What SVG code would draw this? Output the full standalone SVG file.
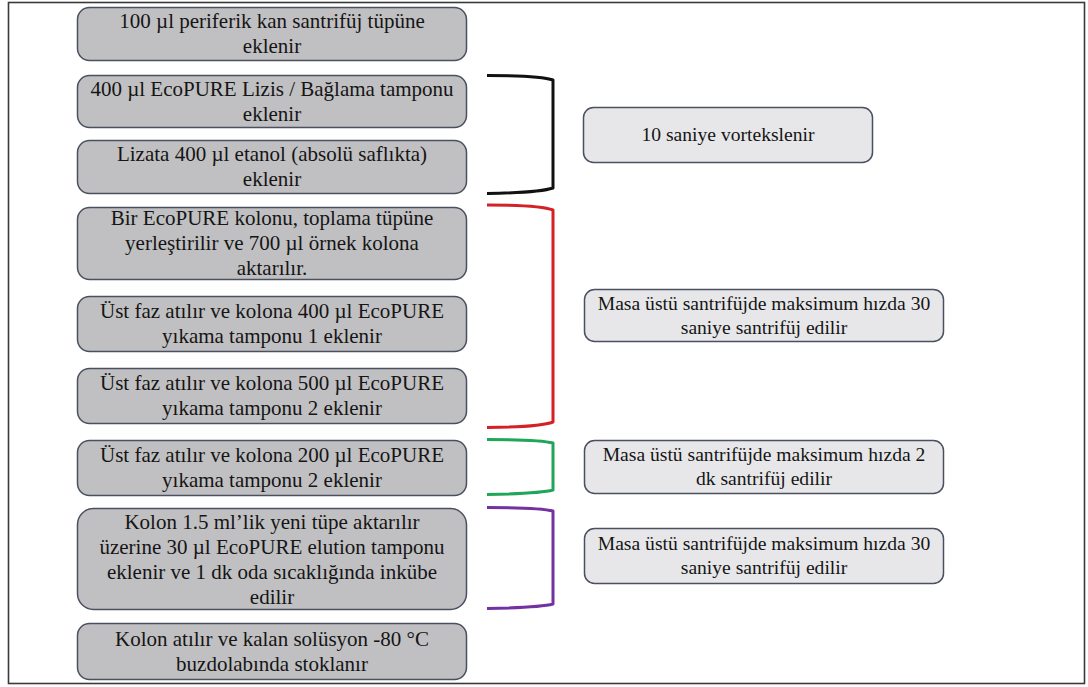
<svg xmlns="http://www.w3.org/2000/svg" width="1088" height="687" viewBox="0 0 1088 687">
<style>
.frame{fill:#ffffff;stroke:#3a3a3a;stroke-width:1.6}
.step{fill:#c0c0c2;stroke:#4a5060;stroke-width:1.5}
.act{fill:#e7e7e9;stroke:#4a5060;stroke-width:1.5}
text{font-family:"Liberation Serif","Times New Roman",serif;fill:#151515;text-anchor:middle}
.l{font-size:21px}
.r{font-size:19.6px}
.br{fill:none;stroke-width:3;stroke-linecap:butt;stroke-linejoin:round}
</style>
<rect class="frame" x="8.5" y="2.5" width="1076" height="681"/>
<g id="step1"><rect class="step" x="77.5" y="7.5" width="389" height="53" rx="12"/><text class="l" x="272" y="28">100 µl periferik kan santrifüj tüpüne</text><text class="l" x="272" y="53">eklenir</text></g>
<g id="step2"><rect class="step" x="77.5" y="75.5" width="389" height="52" rx="12"/><text class="l" x="272" y="95.5">400 µl EcoPURE Lizis / Bağlama tamponu</text><text class="l" x="272" y="120.5">eklenir</text></g>
<g id="step3"><rect class="step" x="77.5" y="140.5" width="389" height="53" rx="12"/><text class="l" x="272" y="161">Lizata 400 µl etanol (absolü saflıkta)</text><text class="l" x="272" y="186">eklenir</text></g>
<g id="step4"><rect class="step" x="77.5" y="207.5" width="389" height="72" rx="12"/><text class="l" x="272" y="225">Bir EcoPURE kolonu, toplama tüpüne</text><text class="l" x="272" y="250">yerleştirilir ve 700 µl örnek kolona</text><text class="l" x="272" y="275">aktarılır.</text></g>
<g id="step5"><rect class="step" x="77.5" y="296.5" width="389" height="55" rx="12"/><text class="l" x="272" y="318">Üst faz atılır ve kolona 400 µl EcoPURE</text><text class="l" x="272" y="343">yıkama tamponu 1 eklenir</text></g>
<g id="step6"><rect class="step" x="77.5" y="368.5" width="389" height="55" rx="12"/><text class="l" x="272" y="390">Üst faz atılır ve kolona 500 µl EcoPURE</text><text class="l" x="272" y="415">yıkama tamponu 2 eklenir</text></g>
<g id="step7"><rect class="step" x="77.5" y="440.5" width="389" height="55" rx="12"/><text class="l" x="272" y="462">Üst faz atılır ve kolona 200 µl EcoPURE</text><text class="l" x="272" y="487">yıkama tamponu 2 eklenir</text></g>
<g id="step8"><rect class="step" x="77.5" y="508.5" width="389" height="101" rx="16"/><text class="l" x="272" y="529">Kolon 1.5 ml’lik yeni tüpe aktarılır</text><text class="l" x="272" y="554">üzerine 30 µl EcoPURE elution tamponu</text><text class="l" x="272" y="579">eklenir ve 1 dk oda sıcaklığında inkübe</text><text class="l" x="272" y="604">edilir</text></g>
<g id="step9"><rect class="step" x="77.5" y="623.5" width="389" height="56" rx="12"/><text class="l" x="272" y="645.5">Kolon atılır ve kalan solüsyon -80 °C</text><text class="l" x="272" y="670.5">buzdolabında stoklanır</text></g>
<g id="act1"><rect class="act" x="583.5" y="107.5" width="289" height="55" rx="10"/><text class="r" x="728" y="141">10 saniye vortekslenir</text></g>
<g id="act2"><rect class="act" x="584.5" y="289.5" width="359" height="52" rx="10"/><text class="r" x="764" y="309.5">Masa üstü santrifüjde maksimum hızda 30</text><text class="r" x="764" y="333.5">saniye santrifüj edilir</text></g>
<g id="act3"><rect class="act" x="584.5" y="440.5" width="359" height="53" rx="10"/><text class="r" x="764" y="461">Masa üstü santrifüjde maksimum hızda 2</text><text class="r" x="764" y="485">dk santrifüj edilir</text></g>
<g id="act4"><rect class="act" x="584.5" y="528.5" width="359" height="55" rx="10"/><text class="r" x="764" y="550">Masa üstü santrifüjde maksimum hızda 30</text><text class="r" x="764" y="574">saniye santrifüj edilir</text></g>
<g id="connectors">
<path class="br" stroke="#111111" d="M487,75.5 Q540,75.5 553,80 L553,188 Q540,192.5 487,193.5"/>
<path class="br" stroke="#d42127" d="M487,205 Q540,205 553,210 L553,422 Q540,427 487,427.5"/>
<path class="br" stroke="#1fa659" d="M487,439.5 Q540,439.5 553,443 L553,490 Q540,493.5 487,494.5"/>
<path class="br" stroke="#7232a2" d="M487,507.5 Q540,507.5 553,511 L553,604 Q540,607.5 487,608.5"/>
</g>
</svg>
